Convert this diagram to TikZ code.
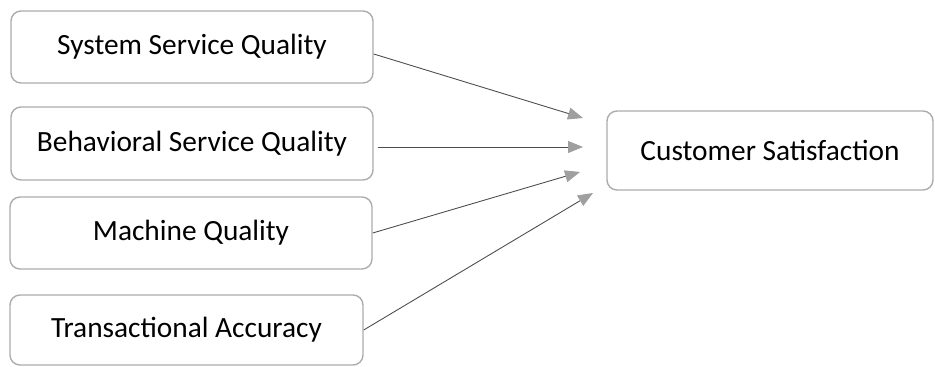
\documentclass[tikz,border=0pt]{standalone}
\usepackage{fontspec}
\setmainfont{Carlito}
\usetikzlibrary{arrows.meta,calc}

\begin{document}
\begin{tikzpicture}[
  factor/.style={rectangle, draw=gray!65, line width=0.8pt, rounded corners=2mm, align=center,
    font=\fontsize{16.7}{20}\selectfont, minimum width=7.24cm, minimum height=1.44cm},
  arrow/.style={-{Triangle[length=3mm, width=2.4mm, color=gray!75, fill=gray!75]}, draw=black!70, line width=0.5pt},
]

\useasboundingbox (0,0) rectangle (18.7,-7.34);

% === Drivers ===
\node[factor] (ssq) at (3.84, -0.94) {System Service Quality};
\node[factor, minimum height=1.46cm] (bsq) at (3.84, -2.87) {Behavioral Service Quality};
\node[factor] (mq) at (3.82, -4.66) {Machine Quality};
\node[factor, minimum width=7.06cm, minimum height=1.40cm] (ta) at (3.73, -6.60) {Transactional Accuracy};

% === Outcome ===
\node[factor, minimum width=6.52cm, minimum height=1.58cm] (cs) at (15.40, -3.01) {Customer Satisfaction};

% arrow heads stop short of the outcome box
\coordinate (in1) at (11.66, -2.36);
\coordinate (in2) at (11.66, -2.94);
\coordinate (in3) at (11.60, -3.44);
\coordinate (in4) at (11.86, -3.86);

\draw[arrow] ($(ssq.east)+(0,-0.14)$) -- (in1);
\draw[arrow] ($(bsq.east)+(0.08,-0.07)$) -- (in2);
\draw[arrow] (mq.east) -- (in3);
\draw[arrow] (ta.east) -- (in4);

\end{tikzpicture}
\end{document}
